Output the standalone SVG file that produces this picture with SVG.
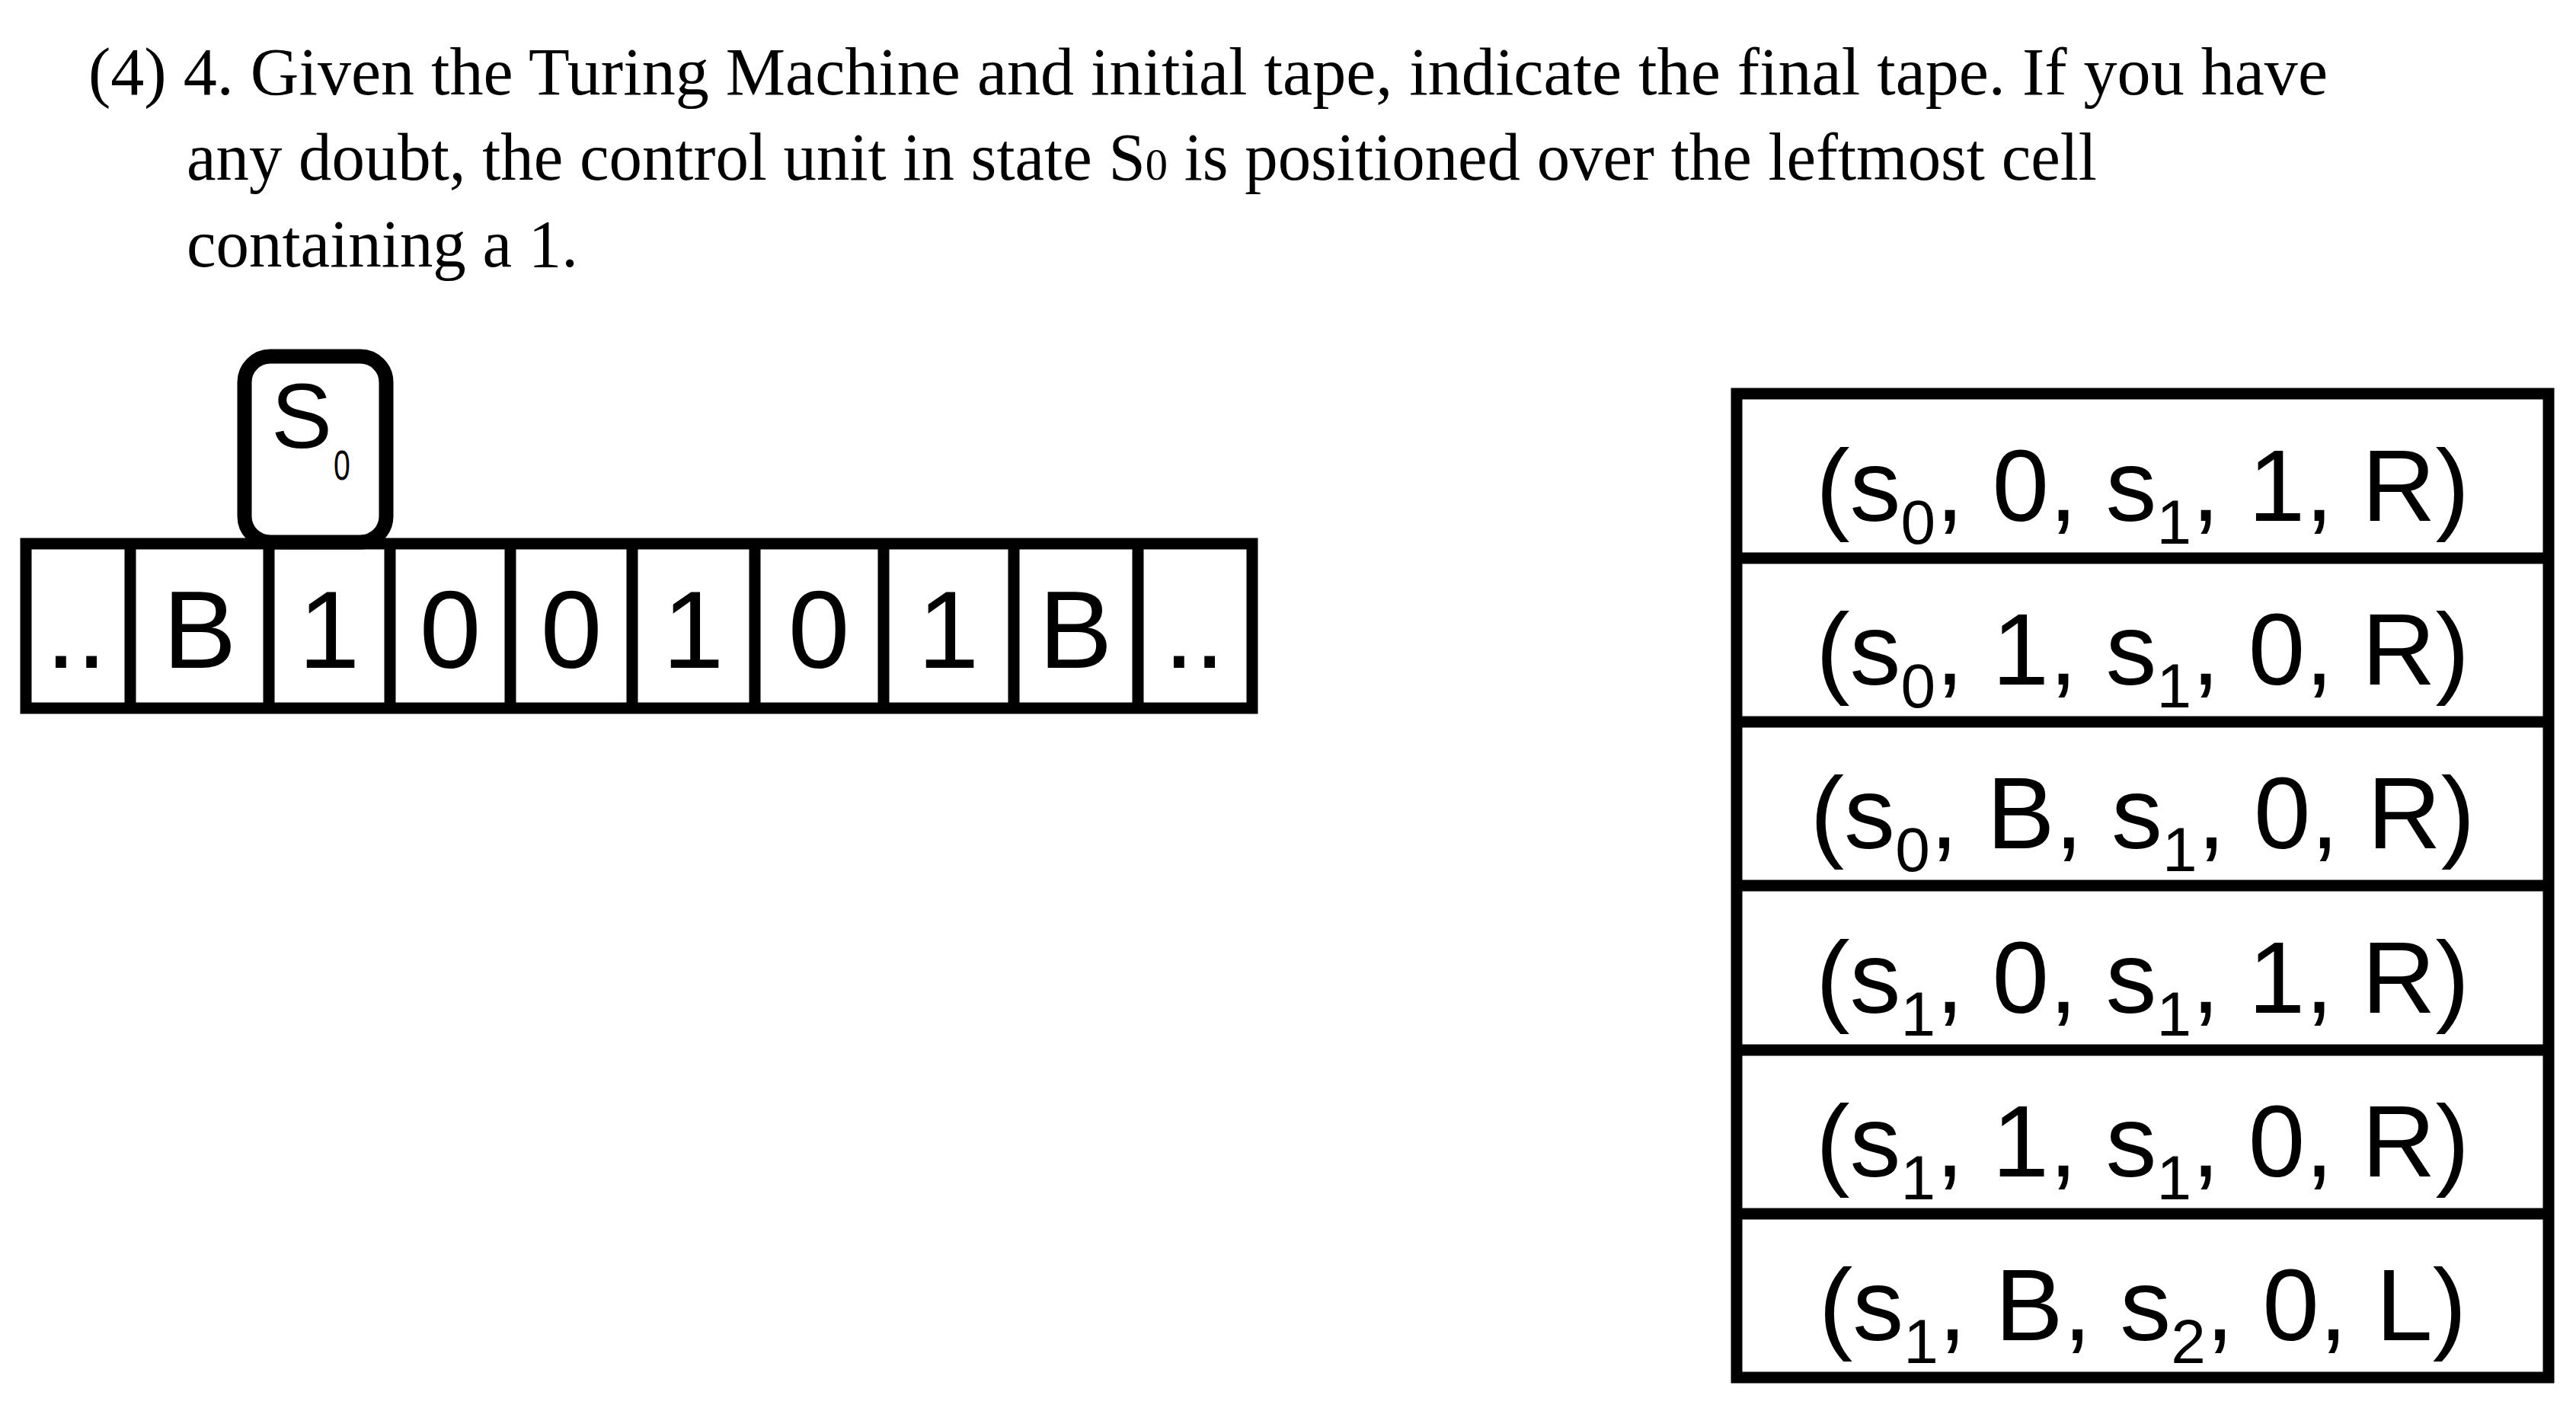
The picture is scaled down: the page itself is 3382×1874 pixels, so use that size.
<svg xmlns="http://www.w3.org/2000/svg" width="3382" height="1874" viewBox="0 0 3382 1874">
<style>
.t{font-family:"Liberation Serif",serif;font-size:89px;fill:#000}
.a{font-family:"Liberation Sans",Arial,sans-serif;fill:#000}
.c{font-size:145px;text-anchor:middle}
.r{font-size:134px;text-anchor:middle}
.s{font-size:82px}
.ln{stroke:#000;stroke-width:15;fill:none}
</style>
<rect width="3382" height="1874" fill="#fff"/>
<g id="title">
<text class="t" x="116" y="124" textLength="2940" lengthAdjust="spacingAndGlyphs">(4) 4. Given the Turing Machine and initial tape, indicate the final tape.  If you have</text>
<text class="t" x="245" y="236" textLength="2508" lengthAdjust="spacingAndGlyphs">any doubt, the control unit in state S<tspan font-size="60">0</tspan> is positioned over the leftmost cell</text>
<text class="t" x="245" y="350" textLength="514" lengthAdjust="spacingAndGlyphs">containing a 1.</text>
</g>
<g id="tape">
<rect class="ln" x="34" y="714" width="1610" height="216" stroke-width="17"/>
<path class="ln" d="M171 714V930M353 714V930M512 714V930M670 714V930M830 714V930M991 714V930M1160 714V930M1331 714V930M1494 714V930"/>
<text class="a c" x="100" y="877" font-size="60">..</text>
<text class="a c" x="262" y="877">B</text>
<text class="a c" x="432" y="877">1</text>
<text class="a c" x="591" y="877">0</text>
<text class="a c" x="750" y="877">0</text>
<text class="a c" x="910" y="877">1</text>
<text class="a c" x="1075" y="877">0</text>
<text class="a c" x="1245" y="877">1</text>
<text class="a c" x="1412" y="877">B</text>
<text class="a c" x="1568" y="877" font-size="60">..</text>
</g>
<g id="head">
<rect x="321" y="468" width="186" height="244" rx="34" fill="#fff" stroke="#000" stroke-width="19"/>
<text class="a" x="356" y="588" font-size="120">S</text>
<text class="a" x="438" y="630" font-size="56" transform="translate(438 0) scale(0.7 1) translate(-438 0)">0</text>
</g>
<g id="table">
<rect class="ln" x="2280" y="517" width="1066" height="1292"/>
<path class="ln" d="M2280 733H3346M2280 948H3346M2280 1163H3346M2280 1379H3346M2280 1594H3346"/>
<text class="a r" x="2813" y="684">(s<tspan class="s" dy="30">0</tspan><tspan dy="-30">, 0, s</tspan><tspan class="s" dy="30">1</tspan><tspan dy="-30">, 1, R)</tspan></text>
<text class="a r" x="2813" y="899">(s<tspan class="s" dy="30">0</tspan><tspan dy="-30">, 1, s</tspan><tspan class="s" dy="30">1</tspan><tspan dy="-30">, 0, R)</tspan></text>
<text class="a r" x="2813" y="1114">(s<tspan class="s" dy="30">0</tspan><tspan dy="-30">, B, s</tspan><tspan class="s" dy="30">1</tspan><tspan dy="-30">, 0, R)</tspan></text>
<text class="a r" x="2813" y="1330">(s<tspan class="s" dy="30">1</tspan><tspan dy="-30">, 0, s</tspan><tspan class="s" dy="30">1</tspan><tspan dy="-30">, 1, R)</tspan></text>
<text class="a r" x="2813" y="1545">(s<tspan class="s" dy="30">1</tspan><tspan dy="-30">, 1, s</tspan><tspan class="s" dy="30">1</tspan><tspan dy="-30">, 0, R)</tspan></text>
<text class="a r" x="2813" y="1760">(s<tspan class="s" dy="30">1</tspan><tspan dy="-30">, B, s</tspan><tspan class="s" dy="30">2</tspan><tspan dy="-30">, 0, L)</tspan></text>
</g>
</svg>
